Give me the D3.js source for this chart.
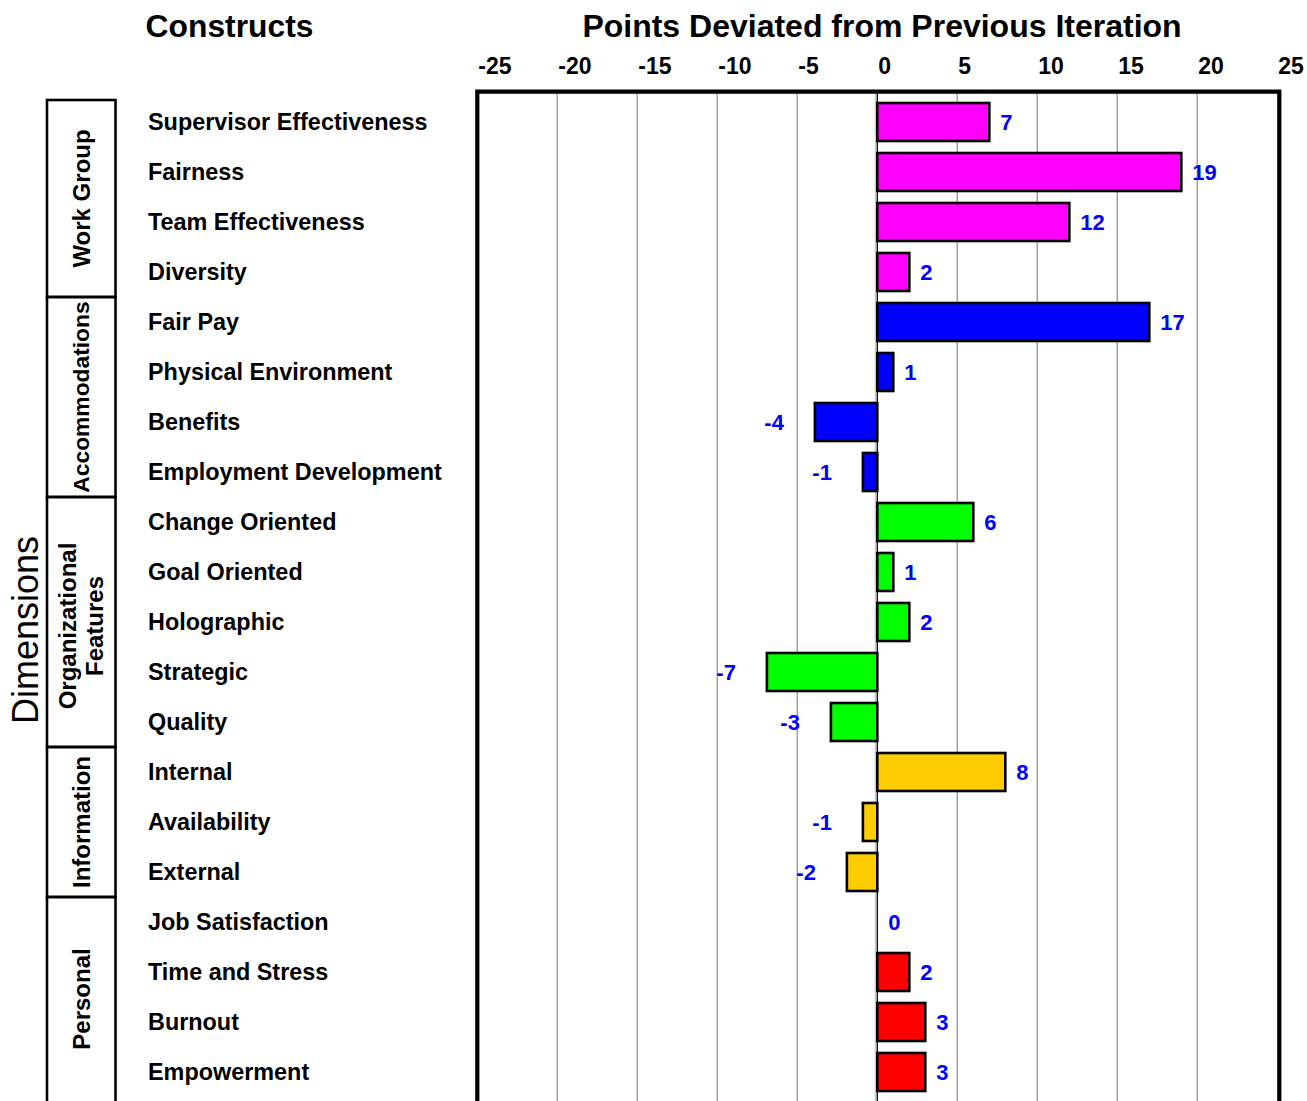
<!DOCTYPE html>
<html><head><meta charset="utf-8">
<script src="https://cdn.jsdelivr.net/npm/d3@7"></script>
<style>
html,body{margin:0;padding:0;background:#fff;overflow:hidden;}
text{font-family:"Liberation Sans",Arial,Helvetica,sans-serif;}
</style></head>
<body>
<svg id="chart" width="1307" height="1101"></svg>
<script>
const constructs = ["Supervisor Effectiveness","Fairness","Team Effectiveness","Diversity",
  "Fair Pay","Physical Environment","Benefits","Employment Development",
  "Change Oriented","Goal Oriented","Holographic","Strategic","Quality",
  "Internal","Availability","External",
  "Job Satisfaction","Time and Stress","Burnout","Empowerment"];
const values = [7,19,12,2, 17,1,-3.9,-0.9, 6,1,2,-6.9,-2.9, 8,-0.9,-1.9, 0,2,3,3];
const dimensions = ["Work Group","Accommodations","Organizational Features","Information","Personal"];
const dimensionLines = [["Work Group"],["Accommodations"],["Organizational","Features"],["Information"],["Personal"]];
const dimensionCounts = [4,4,5,3,4];
const dimensionColors = ["#FF00FF","#0000FF","#00FF00","#FFCC00","#FF0000"];
const tickValues = [-25,-20,-15,-10,-5,0,5,10,15,20,25];

const svg = d3.select("#chart");
const x = d3.scaleLinear().domain([-25,25]).range([477.3,1277.3]);
const y = d3.scaleBand().domain(constructs).range([97,1097]).paddingInner(0.24).paddingOuter(0.12);

const dimOf = [];
dimensionCounts.forEach((c,i)=>{for(let k=0;k<c;k++) dimOf.push(i);});

// gridlines
svg.append("g").selectAll("line").data(tickValues.filter(v=>v!==-25&&v!==25&&v!==0)).join("line")
  .attr("x1",d=>x(d)).attr("x2",d=>x(d)).attr("y1",92).attr("y2",1101)
  .attr("stroke","#a0a0a0").attr("stroke-width",1.5);
svg.append("line").attr("x1",x(0)).attr("x2",x(0)).attr("y1",92).attr("y2",1101)
  .attr("stroke","#000").attr("stroke-width",1.3);
svg.append("line").attr("x1",x(0)-2).attr("x2",x(0)-2).attr("y1",92).attr("y2",1101)
  .attr("stroke","#bbb").attr("stroke-width",1);

// frame
svg.append("path").attr("d",`M${x(-25)},1110 L${x(-25)},91.7 L${x(25)+2},91.7 L${x(25)+2},1110`)
  .attr("fill","none").attr("stroke","#000").attr("stroke-width",4.2);

// top tick labels
svg.append("g").selectAll("text").data(tickValues).join("text")
  .attr("x",d=>x(d)+1).attr("y",66).attr("dominant-baseline","central")
  .attr("font-size",23).attr("font-weight","bold").text(d=>d);

// bars
const bh = y.bandwidth();
svg.append("g").selectAll("rect").data(constructs).join("rect")
  .attr("x",(d,i)=>x(Math.min(0,values[i])))
  .attr("width",(d,i)=>Math.abs(x(values[i])-x(0)))
  .attr("y",d=>y(d)).attr("height",bh)
  .attr("fill",(d,i)=>dimensionColors[dimOf[i]])
  .attr("stroke",(d,i)=>values[i]===0?"none":"#000").attr("stroke-width",2.6);

// value labels
svg.append("g").selectAll("text").data(constructs).join("text")
  .attr("x",(d,i)=>values[i]>=0 ? x(values[i])+11 : x(values[i])-31)
  .attr("text-anchor",(d,i)=>values[i]>=0?"start":"end")
  .attr("y",d=>y(d)+bh/2).attr("dominant-baseline","central")
  .attr("font-size",22).attr("font-weight","bold").attr("fill","#0000FF")
  .text((d,i)=>Math.round(values[i]));

// category labels
svg.append("g").selectAll("text").data(constructs).join("text")
  .attr("x",148).attr("y",d=>y(d)+bh/2).attr("dominant-baseline","central")
  .attr("font-size",23.4).attr("font-weight","bold").attr("fill","#000").text(d=>d);

// titles
svg.append("text").attr("x",229.5).attr("y",26).attr("text-anchor","middle").attr("dominant-baseline","central")
  .attr("font-size",31.8).attr("font-weight","bold").text("Constructs");
svg.append("text").attr("x",882).attr("y",26).attr("text-anchor","middle").attr("dominant-baseline","central")
  .attr("font-size",32).attr("font-weight","bold").text("Points Deviated from Previous Iteration");

// dimension boxes
const boxBounds = [];
let start = 0;
dimensionCounts.forEach((c,i)=>{
  const top = i===0 ? 100 : y.step()*start + 97;
  const bottom = i===dimensionCounts.length-1 ? 1110 : y.step()*(start+c) + 97;
  boxBounds.push([top,bottom]); start += c;
});
const bx0 = 47, bx1 = 115.5;
const gBox = svg.append("g");
boxBounds.forEach((b,i)=>{
  gBox.append("rect").attr("x",bx0).attr("y",b[0]).attr("width",bx1-bx0).attr("height",b[1]-b[0])
    .attr("fill","none").attr("stroke","#000").attr("stroke-width",2.6);
  const cy = (b[0]+Math.min(b[1],1101))/2 + (i===2?4:0);
  const lines = dimensionLines[i];
  const cx = (bx0+bx1)/2;
  const lh = 27;
  lines.forEach((ln,j)=>{
    const xx = cx + (j-(lines.length-1)/2)*lh;
    gBox.append("text").attr("transform",`translate(${xx},${cy}) rotate(-90)`)
      .attr("text-anchor","middle").attr("dominant-baseline","central")
      .attr("font-size",i===1?22.8:24).attr("font-weight","bold").text(ln);
  });
});

svg.append("text").attr("transform","translate(25,630) rotate(-90)")
  .attr("text-anchor","middle").attr("dominant-baseline","central")
  .attr("font-size",36).text("Dimensions");
</script>
</body></html>
